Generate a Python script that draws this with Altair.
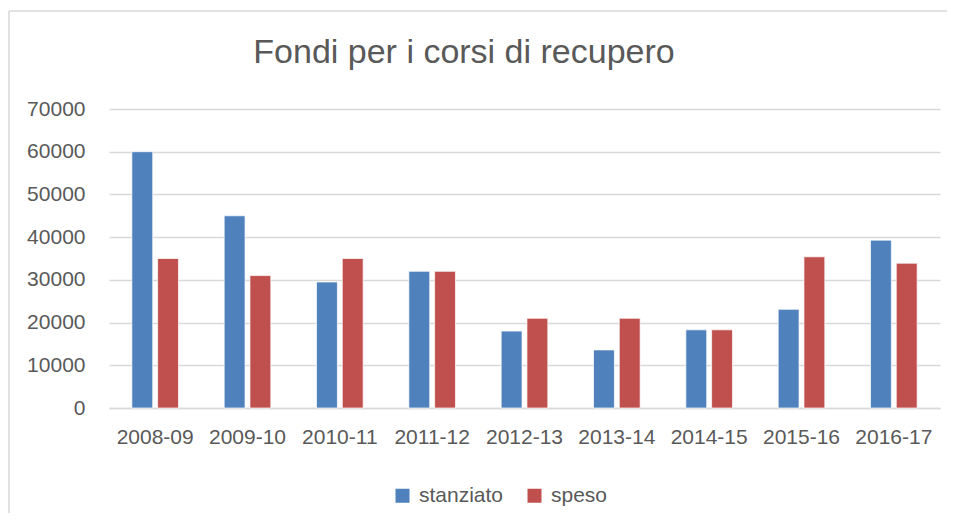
import altair as alt
import pandas as pd

anni = ["2008-09", "2009-10", "2010-11", "2011-12", "2012-13",
        "2013-14", "2014-15", "2015-16", "2016-17"]
stanziato = [60000, 45000, 29500, 32000, 18000, 13600, 18300, 23100, 39300]
speso = [35000, 31000, 35000, 32000, 21000, 21000, 18300, 35400, 33900]
serie = ["stanziato", "speso"]
colori = ["#4F81BD", "#C0504D"]
y_ticks = [0, 10000, 20000, 30000, 40000, 50000, 60000, 70000]
titolo = "Fondi per i corsi di recupero"

rows = []
for a, s1, s2 in zip(anni, stanziato, speso):
    rows.append({"anno": a, "serie": "stanziato", "valore": s1})
    rows.append({"anno": a, "serie": "speso", "valore": s2})
df = pd.DataFrame(rows)

FONT = "Liberation Sans"
GRAY = "#595959"

bars = alt.Chart(df).mark_bar(stroke="white", strokeWidth=1, strokeOpacity=0.7).encode(
    x=alt.X("anno:N", sort=anni, title=None,
            scale=alt.Scale(paddingInner=0.495, paddingOuter=0.2475),
            axis=alt.Axis(labelAngle=0, labelFont=FONT, labelFontSize=21,
                          labelColor=GRAY, ticks=False, domain=True,
                          domainColor="#D9D9D9", domainWidth=1.5,
                          labelPadding=18, grid=False)),
    xOffset=alt.XOffset("serie:N", sort=serie,
                        scale=alt.Scale(paddingInner=0.19, paddingOuter=0)),
    y=alt.Y("valore:Q", title=None,
            scale=alt.Scale(domain=[0, 70000], nice=False),
            axis=alt.Axis(values=y_ticks, format="d", labelFont=FONT,
                          labelFontSize=21, labelColor=GRAY, ticks=False,
                          domain=False, labelPadding=24, grid=True,
                          gridColor="#D9D9D9", gridWidth=1.5)),
    color=alt.Color("serie:N", sort=serie,
                    scale=alt.Scale(domain=serie, range=colori),
                    legend=alt.Legend(title=None, orient="none", direction="horizontal",
                                      legendX=283, legendY=376, padding=0,
                                      symbolType="square", symbolSize=196,
                                      symbolStrokeWidth=0, symbolOpacity=1,
                                      labelFont=FONT, labelFontSize=21,
                                      labelColor=GRAY, labelOffset=6,
                                      columnPadding=20)),
)

one = pd.DataFrame({"k": [0]})
frame_top = alt.Chart(one).mark_rule(stroke="#D9D9D9", strokeWidth=1.5, clip=False).encode(
    x=alt.value(-100), x2=alt.value(900), y=alt.value(-98),
)
frame_left = alt.Chart(one).mark_rule(stroke="#D9D9D9", strokeWidth=1.5, clip=False).encode(
    x=alt.value(-100), y=alt.value(-98), y2=alt.value(460),
)

title_mark = alt.Chart(pd.DataFrame({"t": [titolo]})).mark_text(
    font=FONT, fontSize=34, color=GRAY, align="center", baseline="alphabetic"
).encode(
    text="t:N", x=alt.value(355), y=alt.value(-46),
)

chart = alt.layer(frame_top, frame_left, title_mark, bars).properties(
    width=831, height=299,
    autosize=alt.AutoSizeParams(type="none"),
    padding={"left": 101, "top": 101, "right": 7, "bottom": 105},
).configure_view(stroke=None)

chart.save("out.html", embed_options={"renderer": "svg", "actions": False})
